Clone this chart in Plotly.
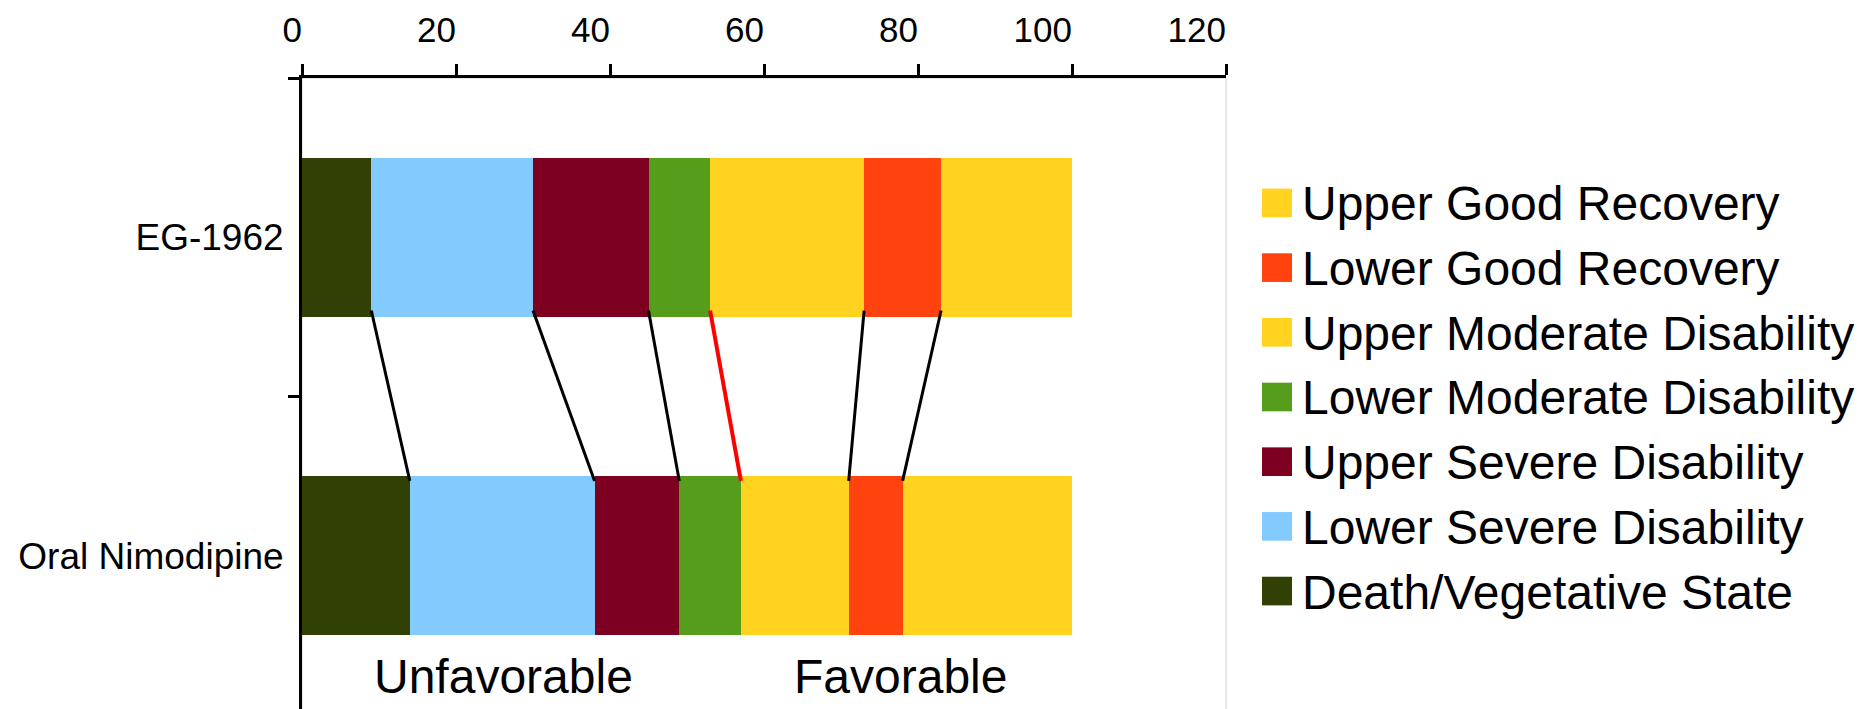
import plotly.graph_objects as go
import numpy as np

# ---- data ----
groups = ["Oral Nimodipine", "EG-1962"]  # bottom to top
outcomes = [
    "Death/Vegetative State",
    "Lower Severe Disability",
    "Upper Severe Disability",
    "Lower Moderate Disability",
    "Upper Moderate Disability",
    "Lower Good Recovery",
    "Upper Good Recovery",
]
colors = ["#314004", "#83CAFF", "#7E0021", "#579D1C", "#FFD320", "#FF420E", "#FFD320"]
eg_values = [9, 21, 15, 8, 20, 10, 17]
oral_values = [14, 24, 11, 8, 14, 7, 22]
x_ticks = [0, 20, 40, 60, 80, 100, 120]
split_labels = ["Unfavorable", "Favorable"]
split_label_x = [26.2, 77.7]
favorable_split_index = 3  # boundary after "Lower Moderate Disability"

FONT = "Liberation Sans, Arial, sans-serif"

fig = go.Figure()
for i, name in enumerate(outcomes):
    fig.add_trace(go.Bar(
        y=["Oral Nimodipine", "EG-1962"],
        x=[oral_values[i], eg_values[i]],
        orientation="h",
        name=name,
        marker=dict(color=colors[i], line=dict(width=0)),
        width=0.5,
        showlegend=False,
    ))

# connector lines between cumulative boundaries
eg_cum = np.cumsum(eg_values)[:-1]
oral_cum = np.cumsum(oral_values)[:-1]
shapes = []
for i, (a, b) in enumerate(zip(eg_cum, oral_cum)):
    red = i == favorable_split_index
    shapes.append(dict(
        type="line", xref="x", yref="y",
        x0=float(a), y0=0.77, x1=float(b), y1=0.235,
        line=dict(color="#FF0000" if red else "#000000", width=4 if red else 3),
        layer="above",
    ))

# light plot frame
shapes.append(dict(type="rect", xref="paper", yref="paper", x0=0, y0=0, x1=1, y1=1,
                   line=dict(color="#CCCCCC", width=1), layer="below"))

annotations = []
for lbl, xv in zip(split_labels, split_label_x):
    annotations.append(dict(x=xv, y=-0.38, xref="x", yref="y", text=lbl, showarrow=False,
                            font=dict(family=FONT, size=48, color="#000000"),
                            xanchor="center", yanchor="middle"))

# legend (reverse order, top = Upper Good Recovery)
L, R, T, B = 294, 1218, 62, 707
pw, ph = R - L, B - T
def px(xp):
    return (xp - L) / pw
def py(yp):
    return (B - yp) / ph
row0, row_step = 188.5, 65.5
for k, idx in enumerate(reversed(range(len(outcomes)))):
    cy = row0 + row_step * k
    shapes.append(dict(type="rect", xref="paper", yref="paper",
                       x0=px(1254), x1=px(1284), y0=py(cy + 14.5), y1=py(cy - 14.5),
                       fillcolor=colors[idx], line=dict(width=0)))
    annotations.append(dict(x=px(1292), y=py(cy + 1), xref="paper", yref="paper",
                            text=outcomes[idx], showarrow=False,
                            font=dict(family=FONT, size=48, color="#000000"),
                            xanchor="left", yanchor="middle"))

# tick labels sit to the left of their tick (right-aligned): pad with figure spaces
x_ticktext = [str(v) + "\u2007" * len(str(v)) for v in x_ticks]

fig.update_layout(
    width=1866, height=709,
    margin=dict(l=L, r=1866 - R, t=T, b=709 - B),
    barmode="stack",
    plot_bgcolor="#FFFFFF", paper_bgcolor="#FFFFFF",
    showlegend=False,
    shapes=shapes,
    annotations=annotations,
    font=dict(family=FONT, color="#000000"),
    xaxis=dict(
        side="top", range=[0, 120], tickvals=x_ticks, ticktext=x_ticktext,
        showgrid=False, zeroline=False,
        showline=True, linecolor="#000000", linewidth=3,
        ticks="outside", ticklen=11, tickwidth=3, tickcolor="#000000",
        tickfont=dict(family=FONT, size=35, color="#000000"),
        ticklabelstandoff=8,
    ),
    yaxis=dict(
        type="category", categoryorder="array", categoryarray=groups,
        range=[-0.5, 1.5],
        showgrid=False, zeroline=False,
        showline=True, linecolor="#000000", linewidth=3,
        ticks="outside", ticklen=11, tickwidth=3, tickcolor="#000000",
        tickson="boundaries",
        tickfont=dict(family=FONT, size=37, color="#000000"),
        ticklabelstandoff=8,
    ),
)

fig.write_html("out.html")
